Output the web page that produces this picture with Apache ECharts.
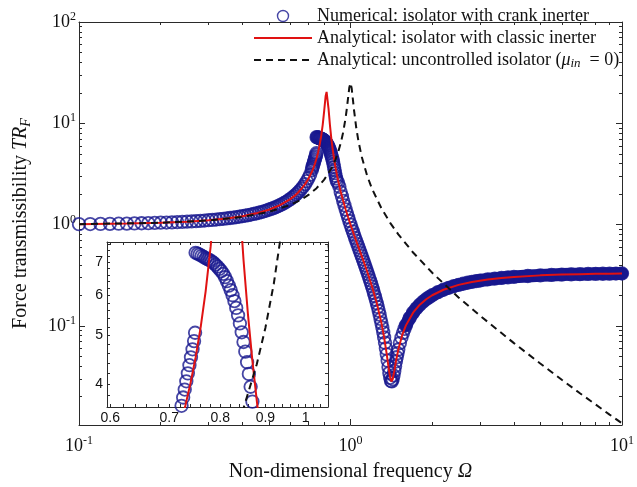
<!DOCTYPE html>
<html>
<head>
<meta charset="utf-8">
<script src="https://cdn.jsdelivr.net/npm/echarts@6/dist/echarts.min.js"></script>
<style>
  html, body { margin: 0; padding: 0; background: #fff; }
  #chart { width: 637px; height: 487px; }
</style>
</head>
<body>
<div id="chart"></div>
<script>
// Numerical sweep: isolator with crank inerter (Omega, TR_F)
const numFreq = [
  0.10,0.11,0.12,0.13,0.14,0.15,0.16,0.17,0.18,0.19,
  0.20,0.21,0.22,0.23,0.24,0.25,0.26,0.27,0.28,0.29,
  0.30,0.31,0.32,0.33,0.34,0.35,0.36,0.37,0.38,0.39,
  0.40,0.41,0.42,0.43,0.44,0.45,0.46,0.47,0.48,0.49,
  0.50,0.51,0.52,0.53,0.54,0.55,0.56,0.57,0.58,0.59,
  0.60,0.61,0.62,0.63,0.64,0.65,0.66,0.67,0.68,0.69,
  0.70,0.71,0.72,
  0.723,0.726,0.729,0.732,0.735,0.738,0.741,0.744,0.747,0.749,
  0.750,0.754,0.758,0.762,0.766,0.770,0.774,0.778,0.782,0.786,
  0.790,0.794,0.798,0.802,0.806,0.810,0.814,0.818,0.822,0.826,
  0.830,0.834,0.838,0.842,0.846,0.850,0.854,0.858,0.862,0.866,
  0.870,0.874,0.878,0.882,0.886,0.89,0.90,0.91,0.92,
  0.93,0.94,0.95,0.96,0.97,0.98,0.99,1.00,1.01,1.02,
  1.03,1.04,1.05,1.06,1.07,1.08,1.09,1.10,1.11,1.12,
  1.13,1.14,1.15,1.16,1.17,1.18,1.19,1.20,1.21,1.22,
  1.23,1.24,1.25,1.26,1.27,1.28,1.29,1.30,1.31,1.32,
  1.33,1.34,1.35,1.36,1.37,1.38,1.39,1.40,1.41,1.42,
  1.43,1.44,1.45,1.46,1.47,1.48,1.49,1.50,
  1.52,1.54,1.56,1.58,1.60,1.65,1.70,1.75,1.80,1.85,1.90,1.95,
  2.0,2.1,2.2,2.3,2.4,2.5,2.6,2.7,2.8,2.9,
  3.0,3.2,3.4,3.6,3.8,4.0,4.5,5.0,5.5,6.0,6.5,7.0,7.5,8.0,8.5,9.0,9.5,10
];
const numTR = [
  1.010,1.012,1.015,1.017,1.020,1.023,1.027,1.030,1.034,1.038,
  1.043,1.047,1.052,1.058,1.063,1.069,1.075,1.082,1.089,1.096,
  1.104,1.112,1.121,1.130,1.140,1.150,1.161,1.172,1.184,1.197,
  1.211,1.225,1.240,1.256,1.273,1.291,1.310,1.330,1.352,1.375,
  1.400,1.427,1.455,1.485,1.518,1.554,1.592,1.634,1.679,1.729,
  1.783,1.842,1.908,1.981,2.062,2.154,2.257,2.374,2.509,2.68,
  2.88,3.10,3.45,
  3.62,3.76,3.90,4.05,4.20,4.36,4.52,4.69,4.87,5.06,
  7.30,7.27,7.24,7.20,7.16,7.12,7.09,7.06,7.02,6.97,
  6.91,6.85,6.78,6.71,6.63,6.53,6.41,6.28,6.15,6.01,
  5.85,5.67,5.48,5.28,5.07,4.85,4.64,4.42,4.19,3.95,
  3.69,3.45,3.22,3.02,2.85,2.70,2.58,2.36,2.10,
  1.90,1.71,1.55,1.41,1.287,1.180,1.085,1.000,0.924,0.856,
  0.794,0.738,0.689,0.642,0.599,0.559,0.522,0.488,0.456,0.426,
  0.398,0.372,0.348,0.325,0.303,0.282,0.263,0.245,0.228,0.211,
  0.196,0.181,0.167,0.154,0.141,0.129,0.117,0.1065,0.0961,0.0863,
  0.0769,0.0682,0.0599,0.0523,0.0454,0.0393,0.0343,0.0307,0.0286,0.0283,
  0.0297,0.0324,0.0359,0.0400,0.0445,0.0490,0.0537,0.0584,
  0.0676,0.0765,0.0851,0.0933,0.1011,0.1191,0.1350,0.1491,0.1617,0.1730,0.1831,0.1923,
  0.2006,0.2151,0.2273,0.2376,0.2464,0.2540,0.2606,0.2665,0.2716,0.2761,
  0.2802,0.2871,0.2927,0.2973,0.3012,0.3044,0.3107,0.3151,0.3183,0.3208,0.3226,0.3241,0.3253,0.3263,0.3271,0.3278,0.3284,0.3289
];

// Analytical: isolator with classic inerter
const clsFreq = [
  0.1,0.15,0.2,0.25,0.3,0.35,0.4,0.45,0.5,0.55,0.6,0.62,0.64,0.66,0.68,0.7,0.72,
  0.73,0.74,0.75,0.76,0.77,0.78,0.79,0.8,0.81,0.8165,0.82,0.83,0.84,0.85,0.86,0.87,
  0.88,0.89,0.9,0.92,0.94,0.96,0.98,1.0,1.03,1.06,1.1,1.15,1.2,1.25,1.3,1.33,1.36,
  1.38,1.4,1.415,1.43,1.45,1.47,1.5,1.55,1.6,1.7,1.8,1.9,2.0,2.2,2.5,2.8,3.2,3.6,
  4.0,5.0,6.0,7.0,8.0,9.0,10
];
const clsTR = [
  1.010,1.023,1.043,1.069,1.104,1.150,1.211,1.291,1.400,1.554,1.783,1.908,2.062,2.257,2.509,2.833,3.303,
  3.617,4.012,4.518,5.191,6.125,7.498,9.657,13.29,18.63,20.4,19.58,13.93,9.61,7.07,5.496,4.448,
  3.705,3.154,2.729,2.12,1.71,1.41,1.180,1.000,0.794,0.642,0.488,0.348,0.245,0.167,0.1065,0.0769,0.0523,
  0.0393,0.0307,0.0283,0.0297,0.0359,0.0445,0.0584,0.0809,0.1011,0.1350,0.1617,0.1831,0.2006,0.2273,0.2540,0.2716,0.2871,0.2973,
  0.3044,0.3151,0.3208,0.3241,0.3263,0.3278,0.3289
];

// Analytical: uncontrolled isolator (mu_in = 0)
const uncFreq = [
  0.1,0.2,0.3,0.4,0.5,0.6,0.65,0.7,0.75,0.8,0.85,0.88,0.9,0.92,0.94,0.96,0.97,0.98,0.99,
  1.0,1.01,1.02,1.03,1.05,1.07,1.1,1.15,1.2,1.3,1.4,1.5,1.7,2.0,2.5,3,4,5,6,7,8,9,10
];
const uncTR = [
  1.010,1.042,1.099,1.190,1.333,1.563,1.732,1.961,2.286,2.778,3.577,4.381,5.173,6.334,8.18,11.46,14.15,17.95,22.58,
  25.02,22.18,17.42,13.6,9.03,6.63,4.665,3.072,2.26,1.447,1.041,0.801,0.530,0.334,0.191,0.126,0.0675,0.0425,0.0294,0.0216,0.0167,0.0133,0.0109
];

// Tick values
const mainXLabels = [0.1, 1, 10];
const mainYLabels = [0.1, 1, 10, 100];
const insetXLabels = [0.6, 0.7, 0.8, 0.9, 1];
const insetYLabels = [4, 5, 6, 7];
const insetXMinor = [0.62,0.64,0.66,0.68,0.72,0.74,0.76,0.78,0.82,0.84,0.86,0.88,0.92,0.94,0.96,0.98,1.02,1.04];
const insetYMinor = [3.8,4.2,4.4,4.6,4.8,5.2,5.4,5.6,5.8,6.2,6.4,6.6,6.8,7.2,7.4,7.6];

const NAME_NUM = 'Numerical: isolator with crank inerter';
const NAME_CLS = 'Analytical: isolator with classic inerter';
const NAME_UNC = 'Analytical: uncontrolled isolator';

const BLUE = '#18188e';
const RED = '#e01212';
const BLACK = '#111111';
const AXIS = '#2a2a2a';
const SERIF = "'Liberation Serif', 'Times New Roman', serif";
const SANS = "'Liberation Sans', Arial, sans-serif";

// log-axis minor positions (2..9 within each decade)
function decadeMinors(decades) {
  const out = [];
  decades.forEach(d => { for (let k = 2; k <= 9; k++) out.push(+(d * k).toPrecision(3)); });
  return out;
}
const mainXMinor = decadeMinors([0.1, 1]);
const mainYMinor = decadeMinors([0.01, 0.1, 1, 10]);

const pairs = (xs, ys) => xs.map((x, i) => [x, ys[i]]);
const numData = pairs(numFreq, numTR);
const clsData = pairs(clsFreq, clsTR);
const uncData = pairs(uncFreq, uncTR);
const bandData = numData.filter(p => p[0] >= 1.6);

const powRich = {
  b: { fontFamily: SERIF, fontSize: 18, color: '#111', lineHeight: 22 },
  s: { fontFamily: SERIF, fontSize: 12, color: '#111', lineHeight: 12, verticalAlign: 'top' }
};
const powFormatter = v => '{b|10}{s|' + Math.round(Math.log10(v)) + '}';

const X_MIN = 0.1, X_MAX = 10, Y_MIN = 0.0105, Y_MAX = 100;
const IX_MIN = 0.595, IX_MAX = 1.06, IY_MIN = 3.6, IY_MAX = 7.67;

function logAxis(o) {
  return {
    type: 'log', logBase: 10, gridIndex: o.grid, position: o.pos,
    min: o.min, max: o.max, z: o.z || 0,
    axisLine: { show: !!o.line, lineStyle: { color: AXIS, width: 1 } },
    axisTick: { show: true, inside: true, length: o.len, customValues: o.ticks,
                lineStyle: { color: AXIS, width: 1 } },
    axisLabel: o.labels ? Object.assign({ show: true, customValues: o.labels }, o.labelOpt) : { show: false },
    splitLine: { show: false }, minorTick: { show: false }, minorSplitLine: { show: false },
    name: o.name || '', nameLocation: 'middle', nameGap: o.nameGap || 0,
    nameRotate: o.nameRotate, nameTextStyle: o.nameStyle
  };
}

const xAxes = [
  logAxis({ grid: 0, pos: 'bottom', min: X_MIN, max: X_MAX, line: true, len: 6, ticks: mainXLabels,
    labels: mainXLabels,
    labelOpt: { margin: 10, formatter: powFormatter, rich: powRich },
    name: 'Non-dimensional frequency {it|Ω}', nameGap: 37,
    nameStyle: { fontFamily: SERIF, fontSize: 20, color: '#111',
      rich: { it: { fontFamily: SERIF, fontSize: 20, fontStyle: 'italic', color: '#111' } } } }),
  logAxis({ grid: 0, pos: 'bottom', min: X_MIN, max: X_MAX, line: false, len: 3, ticks: mainXMinor }),
  logAxis({ grid: 0, pos: 'top', min: X_MIN, max: X_MAX, line: true, len: 6, ticks: mainXLabels }),
  logAxis({ grid: 0, pos: 'top', min: X_MIN, max: X_MAX, line: false, len: 3, ticks: mainXMinor }),
  logAxis({ grid: 1, pos: 'bottom', min: IX_MIN, max: IX_MAX, line: true, len: 3, z: 6,
    ticks: insetXLabels.concat(insetXMinor), labels: insetXLabels,
    labelOpt: { margin: 4, fontFamily: SANS, fontSize: 14, color: '#111' } }),
  logAxis({ grid: 1, pos: 'top', min: IX_MIN, max: IX_MAX, line: true, len: 3, z: 6,
    ticks: insetXLabels.concat(insetXMinor) })
];

const yAxes = [
  logAxis({ grid: 0, pos: 'left', min: Y_MIN, max: Y_MAX, line: true, len: 6, ticks: mainYLabels,
    labels: mainYLabels,
    labelOpt: { margin: 3, formatter: powFormatter, rich: powRich },
    name: 'Force transmissibility {it|TR}{sub|F}', nameGap: 46, nameRotate: 90,
    nameStyle: { fontFamily: SERIF, fontSize: 20, color: '#111', lineHeight: 24,
      rich: {
        it: { fontFamily: SERIF, fontSize: 20, fontStyle: 'italic', color: '#111', lineHeight: 24 },
        sub: { fontFamily: SERIF, fontSize: 14, fontStyle: 'italic', color: '#111', lineHeight: 14, verticalAlign: 'bottom' }
      } } }),
  logAxis({ grid: 0, pos: 'left', min: Y_MIN, max: Y_MAX, line: false, len: 3, ticks: mainYMinor }),
  logAxis({ grid: 0, pos: 'right', min: Y_MIN, max: Y_MAX, line: true, len: 6, ticks: mainYLabels }),
  logAxis({ grid: 0, pos: 'right', min: Y_MIN, max: Y_MAX, line: false, len: 3, ticks: mainYMinor }),
  logAxis({ grid: 1, pos: 'left', min: IY_MIN, max: IY_MAX, line: true, len: 3, z: 6,
    ticks: insetYLabels.concat(insetYMinor), labels: insetYLabels,
    labelOpt: { margin: 4, fontFamily: SANS, fontSize: 14, color: '#111' } }),
  logAxis({ grid: 1, pos: 'right', min: IY_MIN, max: IY_MAX, line: true, len: 3, z: 6,
    ticks: insetYLabels.concat(insetYMinor) })
];

const circleStyle = { color: 'rgba(0,0,0,0)', borderColor: BLUE, borderWidth: 1.8 };

function seriesSet(xi, yi, zBase) {
  return [
    { type: 'line', name: 'band', xAxisIndex: xi, yAxisIndex: yi, data: bandData, z: zBase,
      symbol: 'none', silent: true, lineStyle: { color: BLUE, width: 13, cap: 'round', join: 'round' } },
    { type: 'scatter', name: NAME_NUM, xAxisIndex: xi, yAxisIndex: yi, data: numData, z: zBase + 1,
      symbol: 'circle', symbolSize: 12.5, itemStyle: circleStyle, silent: true },
    { type: 'line', name: NAME_CLS, xAxisIndex: xi, yAxisIndex: yi, data: clsData, z: zBase + 2,
      symbol: 'none', silent: true, lineStyle: { color: RED, width: 2 } },
    { type: 'line', name: NAME_UNC, xAxisIndex: xi, yAxisIndex: yi, data: uncData, z: zBase + 3,
      symbol: 'none', silent: true, lineStyle: { color: BLACK, width: 2, type: [7, 5] } }
  ];
}

const hiddenMarker = { opacity: 0 };

const chart = echarts.init(document.getElementById('chart'), null, { renderer: 'canvas' });
chart.setOption({
  animation: false,
  backgroundColor: '#fff',
  grid: [
    { left: 79, top: 22, width: 546, height: 404, show: false },
    { left: 107, top: 242, width: 221, height: 165, show: true, backgroundColor: '#fff',
      borderWidth: 0, z: 5 }
  ],
  xAxis: xAxes,
  yAxis: yAxes,
  legend: {
    left: 248, top: 1, orient: 'vertical', itemWidth: 58, itemHeight: 11, itemGap: 2,
    selectedMode: false,
    data: [
      { name: NAME_NUM, icon: 'circle', itemStyle: { color: 'rgba(0,0,0,0)', borderColor: BLUE, borderWidth: 1.4 } },
      { name: NAME_CLS, itemStyle: hiddenMarker },
      { name: NAME_UNC, itemStyle: hiddenMarker }
    ],
    formatter: n => n === NAME_UNC ? n + ' ({it|μ}{sub|in}  = 0)' : n,
    textStyle: {
      fontFamily: SERIF, fontSize: 18, color: '#111', lineHeight: 20,
      rich: {
        it: { fontFamily: SERIF, fontSize: 18, fontStyle: 'italic', color: '#111', lineHeight: 20 },
        sub: { fontFamily: SERIF, fontSize: 13, fontStyle: 'italic', color: '#111', lineHeight: 13, verticalAlign: 'bottom' }
      }
    }
  },
  series: seriesSet(0, 0, 2).concat(seriesSet(4, 4, 7))
});
</script>
</body>
</html>
